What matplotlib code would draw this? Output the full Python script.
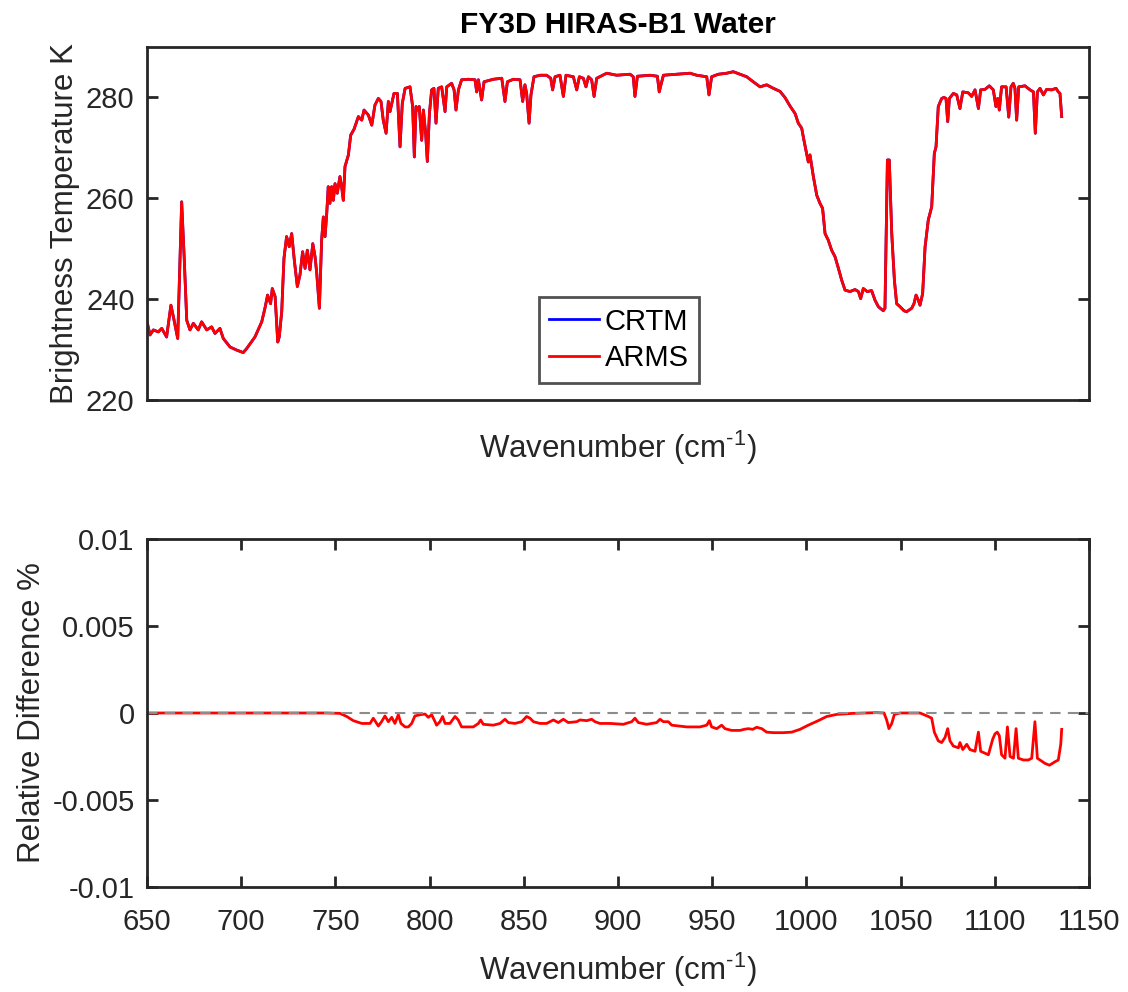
import matplotlib
matplotlib.use("Agg")
import matplotlib.pyplot as plt

plt.rcParams['font.family'] = ['Liberation Sans', 'DejaVu Sans']
plt.rcParams['mathtext.fontset'] = 'custom'
plt.rcParams['mathtext.rm'] = 'Liberation Sans'
plt.rcParams['mathtext.it'] = 'Liberation Sans'
plt.rcParams['mathtext.bf'] = 'Liberation Sans:bold'
plt.rcParams['axes.unicode_minus'] = False

# ---------------- data ----------------
wn_bt = [650.2, 651.6, 653.4, 656.0, 657.8, 660.4, 662.7, 664.0, 664.9, 666.3,
         668.4, 669.8, 671.1, 672.8, 674.6, 677.2, 679.0, 681.7, 684.3, 686.1,
         688.7, 690.5, 694.1, 697.6, 701.1, 702.9, 707.3, 710.9, 712.6, 714.0,
         715.6, 716.5, 718.0, 719.4, 720.2, 721.5, 722.7, 724.1, 725.5, 726.8,
         728.2, 729.8, 731.2, 732.6, 733.9, 735.1, 736.5, 738.0, 739.2, 740.1,
         741.5, 742.7, 743.6, 744.5, 745.4, 746.2, 747.1, 748.0, 748.9, 749.8,
         751.0, 752.4, 753.3, 754.2, 755.1, 756.9, 758.1, 759.9, 762.2, 764.0,
         765.2, 767.5, 769.3, 771.0, 772.8, 774.2, 775.4, 776.9, 778.1, 779.0,
         781.1, 782.9, 784.3, 785.5, 787.0, 789.6, 791.0, 791.9, 792.8, 793.7,
         794.5, 795.8, 796.7, 797.9, 798.8, 799.9, 801.1, 802.3, 803.4, 804.6,
         806.4, 808.2, 809.1, 811.7, 813.0, 814.0, 815.3, 817.0, 820.6, 824.1,
         825.0, 825.9, 827.6, 828.9, 833.8, 838.3, 840.0, 841.3, 844.4, 848.0,
         849.4, 850.6, 851.5, 852.8, 853.8, 855.4, 858.6, 862.1, 864.3, 865.3,
         866.6, 869.2, 871.0, 872.4, 876.3, 878.1, 879.5, 881.6, 883.0, 884.3,
         886.0, 887.3, 888.7, 894.0, 899.3, 906.4, 908.1, 909.0, 910.3, 917.0,
         920.9, 921.9, 922.8, 924.1, 931.1, 938.2, 941.8, 947.1, 948.3, 949.7,
         953.3, 957.7, 961.2, 964.8, 968.3, 971.8, 975.4, 978.9, 982.5, 986.0,
         988.6, 991.3, 994.0, 995.7, 997.5, 998.7, 1000.1, 1001.0, 1001.9, 1003.7,
         1005.5, 1007.2, 1008.6, 1009.9, 1011.6, 1013.4, 1015.2, 1017.0, 1018.7, 1020.5,
         1023.1, 1025.8, 1027.6, 1028.8, 1030.2, 1032.3, 1034.6, 1036.4, 1038.2, 1040.8,
         1041.7, 1043.0, 1044.0, 1045.3, 1046.7, 1047.9, 1049.7, 1051.8, 1053.2, 1055.9,
         1057.1, 1058.2, 1059.4, 1060.3, 1061.7, 1063.0, 1064.7, 1066.5, 1067.9, 1068.8,
         1070.0, 1071.8, 1073.0, 1074.1, 1075.0, 1075.9, 1078.0, 1079.8, 1081.5, 1083.0,
         1086.0, 1087.7, 1089.5, 1091.3, 1092.5, 1094.8, 1097.1, 1099.2, 1100.6, 1101.5,
         1102.4, 1103.6, 1106.0, 1107.4, 1108.6, 1109.8, 1110.7, 1111.6, 1112.7, 1116.0,
         1118.7, 1120.5, 1121.5, 1122.6, 1124.0, 1125.8, 1127.5, 1130.2, 1132.5, 1133.7,
         1134.6, 1135.5]

arms_bt = [235.2, 232.9, 233.9, 233.5, 234.2, 232.5, 238.8, 236.5, 234.8, 232.2,
           259.3, 247.7, 235.8, 233.9, 235.2, 233.9, 235.5, 233.9, 234.5, 233.2,
           234.2, 232.2, 230.5, 229.9, 229.4, 230.2, 232.5, 235.5, 238.2, 240.8,
           239.1, 242.1, 240.5, 231.5, 232.5, 237.5, 248.1, 252.4, 250.4, 253.0,
           247.7, 242.5, 244.8, 249.4, 246.1, 249.7, 245.8, 251.0, 248.4, 245.1,
           238.2, 251.7, 256.3, 252.4, 257.0, 262.3, 259.0, 262.3, 259.6, 262.9,
           261.0, 264.3, 262.3, 259.6, 266.3, 268.6, 272.5, 273.7, 276.2, 275.5,
           277.5, 276.5, 274.5, 278.5, 279.8, 279.2, 275.5, 272.9, 279.2, 277.2,
           280.8, 280.8, 270.2, 278.8, 281.8, 282.1, 278.2, 268.2, 278.2, 277.5,
           278.2, 271.5, 277.5, 272.9, 267.3, 276.8, 281.5, 281.8, 274.9, 281.8,
           282.1, 277.2, 282.1, 282.8, 281.5, 277.5, 281.5, 283.5, 283.6, 283.5,
           281.1, 283.5, 279.5, 283.1, 283.6, 283.8, 279.2, 283.1, 283.6, 283.5,
           279.2, 282.5, 280.8, 274.9, 280.5, 284.1, 284.4, 284.4, 283.8, 281.5,
           284.1, 284.4, 280.2, 284.4, 284.1, 281.5, 284.1, 283.8, 282.1, 284.1,
           283.5, 280.2, 283.8, 284.8, 284.4, 284.6, 284.1, 280.2, 284.2, 284.4,
           284.2, 281.1, 282.5, 284.4, 284.6, 284.8, 284.4, 284.1, 280.5, 284.1,
           284.6, 284.8, 285.1, 284.6, 284.1, 283.1, 282.1, 282.5, 281.8, 281.2,
           280.0, 278.3, 276.8, 274.9, 273.9, 271.5, 268.9, 267.2, 268.6, 264.3,
           260.6, 259.0, 258.0, 253.0, 251.7, 249.7, 248.4, 246.1, 243.8, 241.8,
           241.5, 241.9, 241.5, 240.1, 242.1, 241.5, 241.7, 239.8, 238.5, 237.7,
           238.2, 267.6, 267.6, 253.0, 243.8, 239.1, 238.5, 237.7, 237.5, 238.2,
           239.1, 240.8, 239.8, 238.8, 241.1, 250.4, 255.7, 258.3, 268.9, 270.2,
           278.2, 279.8, 280.0, 279.8, 275.2, 279.8, 280.8, 280.5, 277.8, 281.1,
           280.9, 280.2, 281.5, 277.8, 281.5, 281.6, 282.3, 281.5, 278.2, 279.8,
           277.5, 282.1, 282.1, 276.1, 282.1, 282.8, 281.8, 275.5, 282.1, 282.3,
           281.5, 281.1, 272.9, 281.1, 281.8, 280.5, 281.6, 281.5, 281.8, 281.1,
           280.8, 276.2]

# CRTM and ARMS brightness temperatures coincide at this scale (CRTM hidden under ARMS)
crtm_bt = arms_bt

wn_diff = [650.0, 700.0, 745.4, 752.4, 756.0, 759.5, 764.0, 768.4, 770.1, 772.8,
           774.5, 776.3, 778.1, 779.9, 781.6, 783.4, 784.8, 787.0, 788.7, 790.5,
           792.2, 794.9, 797.6, 799.3, 801.1, 802.9, 803.7, 805.5, 806.9, 808.2,
           810.8, 813.5, 815.2, 817.0, 823.2, 825.9, 827.1, 828.5, 833.8, 837.4,
           840.0, 841.8, 845.3, 848.9, 851.5, 853.3, 855.1, 858.6, 862.1, 865.7,
           868.3, 871.0, 873.6, 878.1, 879.8, 883.4, 886.0, 887.8, 890.4, 895.8,
           902.8, 907.3, 909.0, 910.8, 915.2, 920.5, 922.3, 924.1, 926.7, 928.5,
           936.5, 943.5, 947.1, 948.5, 949.7, 952.4, 955.0, 956.8, 960.3, 964.8,
           966.9, 969.2, 971.5, 973.6, 976.3, 978.9, 982.5, 987.8, 992.2, 996.6,
           1001.0, 1006.3, 1010.8, 1016.1, 1024.9, 1032.0, 1037.3, 1041.2, 1042.6, 1043.8,
           1045.3, 1046.7, 1049.7, 1060.3, 1064.7, 1066.5, 1067.9, 1070.0, 1071.8, 1073.6,
           1075.0, 1076.2, 1078.0, 1080.7, 1081.5, 1083.0, 1085.1, 1086.8, 1089.5, 1091.3,
           1092.5, 1096.6, 1098.9, 1100.1, 1101.3, 1102.4, 1103.6, 1105.4, 1106.7, 1108.1,
           1109.9, 1111.3, 1112.5, 1115.2, 1117.8, 1119.6, 1121.3, 1122.6, 1124.0, 1126.7,
           1129.0, 1132.0, 1133.7, 1135.0, 1135.5]

rel_diff = [0.0, 0.0, 0.0, -0.00002, -0.0002, -0.00044, -0.0006, -0.0006, -0.0003, -0.00075,
            -0.0005, -0.00017, -0.0005, -0.00025, -0.0006, -0.0001, -0.0006, -0.0008, -0.0008, -0.0006,
            -0.00017, -0.0001, -0.00006, -0.00025, -0.0001, -0.0005, -0.0007, -0.0005, -0.0002, -0.0006,
            -0.0006, -0.0002, -0.0004, -0.0008, -0.0008, -0.0006, -0.0004, -0.00065, -0.0007, -0.0006,
            -0.00036, -0.00055, -0.0006, -0.0005, -0.0002, -0.0003, -0.0005, -0.0006, -0.0006, -0.0004,
            -0.00055, -0.00036, -0.00055, -0.0005, -0.0004, -0.00044, -0.00036, -0.0005, -0.0006, -0.0006,
            -0.00065, -0.0005, -0.0003, -0.00055, -0.00065, -0.00055, -0.00036, -0.0005, -0.0005, -0.0007,
            -0.0008, -0.0008, -0.0007, -0.00044, -0.0008, -0.0009, -0.0007, -0.0009, -0.001, -0.001,
            -0.00094, -0.0009, -0.00094, -0.00082, -0.0009, -0.0011, -0.00113, -0.00113, -0.0011, -0.00094,
            -0.0007, -0.00044, -0.0002, -0.00008, -0.00002, 0.0, 0.00002, 0.0, -0.0004, -0.0009,
            -0.0006, -0.00008, 0.0, 0.0, -0.0002, -0.0003, -0.0011, -0.0016, -0.0017, -0.0014,
            -0.0009, -0.0016, -0.0019, -0.002, -0.0017, -0.0021, -0.0018, -0.0021, -0.0022, -0.0011,
            -0.0022, -0.0024, -0.0015, -0.0012, -0.0011, -0.0013, -0.0024, -0.0026, -0.0008, -0.0025,
            -0.0026, -0.0009, -0.0026, -0.0027, -0.0027, -0.0026, -0.0005, -0.0026, -0.0027, -0.0029,
            -0.003, -0.0028, -0.0027, -0.0018, -0.00094]

x_ticks = [650, 700, 750, 800, 850, 900, 950, 1000, 1050, 1100, 1150]
bt_ticks = [220, 240, 260, 280]
diff_ticks = [-0.01, -0.005, 0, 0.005, 0.01]
diff_ticklabels = ['-0.01', '-0.005', '0', '0.005', '0.01']

# ---------------- styling ----------------
TXT = '#262626'
TICK_FS = 21
LABEL_FS = 22.5
W, H = 1128, 992
XLABEL = 'Wavenumber (cm$^{\\text{-1}}$)'

fig = plt.figure(figsize=(W / 100, H / 100), dpi=100)

def px_axes(left, top, right, bottom):
    return fig.add_axes([left / W, 1 - bottom / H, (right - left) / W, (bottom - top) / H])

ax1 = px_axes(147, 47, 1089, 400)
ax2 = px_axes(147, 539, 1089, 887)

for ax in (ax1, ax2):
    for sp in ax.spines.values():
        sp.set_linewidth(2.0)
        sp.set_color(TXT)
    ax.tick_params(direction='in', length=8, width=2.0, colors=TXT,
                   labelsize=TICK_FS, top=True, right=True)
    ax.tick_params(axis='y', pad=9)
    ax.tick_params(axis='x', pad=15)

# top panel
ax1.plot(wn_bt, crtm_bt, color='#0000ff', lw=2.0, label='CRTM')
ax1.plot(wn_bt, arms_bt, color='#ff0000', lw=2.0, label='ARMS')
ax1.set_xlim(650, 1150)
ax1.set_ylim(220, 290)
ax1.set_xticks([])
ax1.set_yticks(bt_ticks)
ax1.set_xlabel(XLABEL, fontsize=LABEL_FS, color=TXT, labelpad=21)
ax1.set_ylabel('Brightness Temperature K', fontsize=LABEL_FS, color=TXT, labelpad=4)
ax1.set_title('FY3D HIRAS-B1 Water', fontsize=21.5, fontweight='bold', color='black', pad=10)
leg = ax1.legend(loc='center', bbox_to_anchor=((619 - 147) / 942, (400 - 340) / 353),
                 fontsize=TICK_FS, frameon=True, fancybox=False, handlelength=1.7,
                 handletextpad=0.2, borderpad=0.35, labelspacing=0.3, borderaxespad=0)
leg.get_frame().set_edgecolor(TXT)
leg.get_frame().set_linewidth(2.0)
for t in leg.get_texts():
    t.set_color('black')

# bottom panel
ax2.plot(wn_diff, rel_diff, color='#ff0000', lw=2.0)
ax2.axhline(0, color='0.55', lw=1.5, ls=(0, (5, 3.5)))
ax2.set_xlim(650, 1150)
ax2.set_ylim(-0.01, 0.01)
ax2.set_xticks(x_ticks)
ax2.set_yticks(diff_ticks)
ax2.set_yticklabels(diff_ticklabels)
ax2.set_xlabel(XLABEL, fontsize=LABEL_FS, color=TXT, labelpad=11)
ax2.set_ylabel('Relative Difference %', fontsize=LABEL_FS, color=TXT, labelpad=4)

fig.savefig('out.png', dpi=100)
